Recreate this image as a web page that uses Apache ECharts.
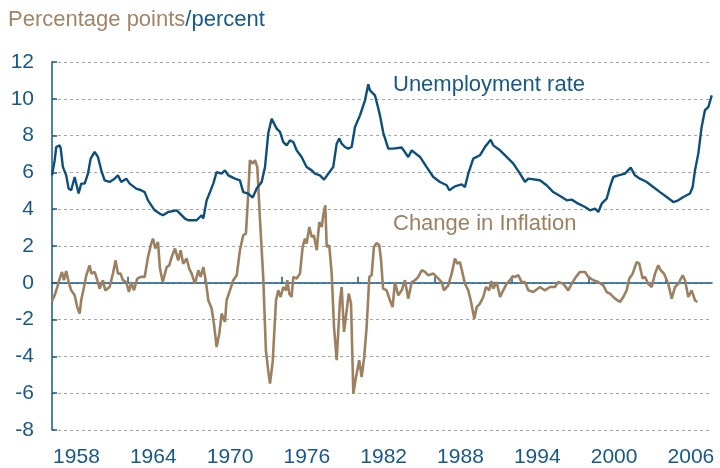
<!DOCTYPE html>
<html>
<head>
<meta charset="utf-8">
<script src="https://cdn.jsdelivr.net/npm/echarts@6/dist/echarts.min.js"></script>
<style>
    html, body { margin: 0; padding: 0; background: #fff; }
    #chart { width: 720px; height: 468px; }
</style>
</head>
<body>
<div id="chart"></div>
<script>
// tick labels along the bottom, and the small ticks on the zero line
var yearLabels = [1958, 1964, 1970, 1976, 1982, 1988, 1994, 2000, 2006];
var zeroTicks = [1962, 1968, 1974, 1980, 1986, 1992, 1998, 2004];

// unemployment rate (percent)
var unempYears = [1956.09, 1956.30, 1956.42, 1956.69, 1956.77, 1956.94, 1957.20, 1957.39, 1957.59, 1957.86,
    1958.17, 1958.37, 1958.64, 1958.90, 1959.11, 1959.42, 1959.68, 1959.94, 1960.20, 1960.59,
    1960.98, 1961.24, 1961.50, 1961.89, 1962.16, 1962.67, 1963.06, 1963.33, 1963.59, 1964.11,
    1964.50, 1964.76, 1964.91, 1965.17, 1965.83, 1966.09, 1966.48, 1966.73, 1967.39, 1967.78,
    1967.91, 1968.17, 1968.43, 1968.69, 1968.95, 1969.34, 1969.60, 1969.86, 1970.38, 1970.77,
    1971.03, 1971.42, 1971.77, 1972.08, 1972.47, 1972.73, 1972.98, 1973.25, 1973.38, 1973.64,
    1973.90, 1974.16, 1974.42, 1974.68, 1974.94, 1975.20, 1975.59, 1975.98, 1976.38, 1976.63,
    1977.02, 1977.34, 1977.67, 1978.06, 1978.33, 1978.53, 1978.72, 1978.98, 1979.23, 1979.50,
    1979.76, 1980.15, 1980.54, 1980.80, 1980.93, 1981.32, 1981.58, 1981.71, 1981.97, 1982.36,
    1982.75, 1983.41, 1983.92, 1984.19, 1984.84, 1985.36, 1985.88, 1986.40, 1986.92, 1987.13,
    1987.57, 1988.09, 1988.35, 1988.61, 1989.00, 1989.52, 1989.91, 1990.36, 1990.56, 1991.09,
    1991.61, 1992.13, 1992.65, 1993.04, 1993.30, 1994.21, 1994.73, 1995.25, 1995.91, 1996.30,
    1996.69, 1997.20, 1997.73, 1998.12, 1998.51, 1998.77, 1999.03, 1999.42, 1999.68, 1999.94,
    2000.33, 2000.85, 2001.30, 2001.63, 2002.02, 2002.55, 2003.06, 2003.59, 2004.11, 2004.63,
    2005.02, 2005.41, 2005.93, 2006.14, 2006.32, 2006.58, 2006.84, 2007.10, 2007.36, 2007.63];
var unempRate = [5.84, 6.66, 7.38, 7.47, 7.30, 6.30, 5.84, 5.12, 5.03, 5.75,
    4.85, 5.39, 5.39, 5.93, 6.75, 7.11, 6.84, 6.11, 5.57, 5.48,
    5.66, 5.84, 5.48, 5.66, 5.39, 5.12, 5.03, 4.93, 4.48, 3.94,
    3.76, 3.67, 3.67, 3.85, 3.94, 3.76, 3.49, 3.40, 3.40, 3.67,
    3.49, 4.48, 4.93, 5.39, 6.02, 5.93, 6.11, 5.84, 5.66, 5.57,
    4.93, 4.85, 4.63, 5.12, 5.48, 6.29, 8.11, 8.92, 9.00, 8.38,
    8.20, 7.65, 7.47, 7.74, 7.65, 7.20, 6.84, 6.29, 6.11, 5.93,
    5.84, 5.61, 5.93, 6.29, 7.56, 7.84, 7.56, 7.38, 7.29, 7.38,
    8.47, 9.10, 9.92, 10.79, 10.46, 10.19, 9.47, 9.10, 8.15, 7.29,
    7.29, 7.35, 6.84, 7.20, 6.84, 6.29, 5.75, 5.48, 5.30, 5.03,
    5.24, 5.35, 5.21, 5.93, 6.75, 6.93, 7.38, 7.78, 7.47, 7.20,
    6.84, 6.48, 5.93, 5.48, 5.66, 5.57, 5.30, 4.93, 4.66, 4.48,
    4.52, 4.30, 4.12, 3.94, 4.03, 3.85, 4.30, 4.57, 5.21, 5.75,
    5.84, 5.93, 6.26, 5.84, 5.66, 5.48, 5.21, 4.93, 4.66, 4.39,
    4.48, 4.66, 4.85, 5.21, 6.11, 7.02, 8.47, 9.38, 9.55, 10.19];

// change in inflation (percentage points)
var inflYears = [1956.09, 1956.30, 1956.50, 1956.69, 1956.87, 1957.02, 1957.20, 1957.39, 1957.59, 1957.86,
    1958.06, 1958.25, 1958.37, 1958.59, 1958.77, 1959.03, 1959.16, 1959.42, 1959.63, 1959.81,
    1960.07, 1960.25, 1960.59, 1960.85, 1961.06, 1961.24, 1961.45, 1961.63, 1961.89, 1962.10,
    1962.28, 1962.49, 1962.75, 1963.02, 1963.33, 1963.59, 1963.84, 1963.98, 1964.16, 1964.37,
    1964.52, 1964.74, 1965.05, 1965.25, 1965.44, 1965.70, 1965.95, 1966.14, 1966.34, 1966.61,
    1966.81, 1967.00, 1967.26, 1967.52, 1967.70, 1967.91, 1968.12, 1968.30, 1968.56, 1968.74,
    1968.95, 1969.16, 1969.34, 1969.60, 1969.73, 1969.99, 1970.25, 1970.52, 1970.77, 1971.03,
    1971.24, 1971.42, 1971.55, 1971.77, 1971.95, 1972.13, 1972.34, 1972.59, 1972.80, 1972.98,
    1973.12, 1973.33, 1973.59, 1973.77, 1973.95, 1974.16, 1974.37, 1974.47, 1974.63, 1974.81,
    1974.94, 1975.20, 1975.46, 1975.67, 1975.85, 1975.98, 1976.19, 1976.38, 1976.55, 1976.77,
    1976.97, 1977.16, 1977.28, 1977.44, 1977.55, 1977.75, 1977.94, 1978.12, 1978.33, 1978.45,
    1978.59, 1978.72, 1978.90, 1979.05, 1979.27, 1979.45, 1979.63, 1979.84, 1980.09, 1980.28,
    1980.48, 1980.67, 1980.88, 1981.06, 1981.24, 1981.45, 1981.66, 1981.80, 1981.95, 1982.23,
    1982.49, 1982.70, 1982.88, 1983.14, 1983.41, 1983.66, 1983.92, 1984.19, 1984.45, 1984.70,
    1984.97, 1985.23, 1985.48, 1985.88, 1986.27, 1986.53, 1986.71, 1987.05, 1987.31, 1987.57,
    1987.75, 1987.96, 1988.17, 1988.35, 1988.61, 1988.80, 1989.08, 1989.27, 1989.52, 1989.78,
    1989.99, 1990.25, 1990.40, 1990.56, 1990.83, 1991.09, 1991.34, 1991.61, 1991.87, 1992.08,
    1992.26, 1992.52, 1992.78, 1993.04, 1993.30, 1993.69, 1994.21, 1994.60, 1994.99, 1995.38,
    1995.64, 1996.03, 1996.42, 1996.69, 1997.02, 1997.34, 1997.73, 1997.98, 1998.38, 1998.77,
    1999.16, 1999.42, 1999.68, 2000.07, 2000.46, 2000.72, 2000.98, 2001.19, 2001.45, 2001.77,
    2001.97, 2002.23, 2002.41, 2002.67, 2002.94, 2003.20, 2003.45, 2003.64, 2003.90, 2004.23,
    2004.50, 2004.76, 2005.02, 2005.36, 2005.54, 2005.80, 2006.06, 2006.32, 2006.50];
var inflChange = [-1.00, -0.68, -0.23, 0.23, 0.59, 0.14, 0.64, 0.04, -0.41, -0.68,
    -1.32, -1.67, -0.95, -0.23, 0.41, 0.95, 0.50, 0.59, 0.14, -0.32,
    0.14, -0.41, -0.23, 0.50, 1.22, 0.50, 0.50, 0.14, 0.04, -0.50,
    0.04, -0.41, 0.23, 0.32, 0.32, 1.40, 2.13, 2.40, 1.86, 2.22,
    0.80, 0.04, 0.86, 0.95, 1.40, 1.86, 1.22, 1.77, 1.04, 1.32,
    0.77, 0.50, -0.05, 0.68, 0.32, 0.86, 0.04, -0.95, -1.40, -2.22,
    -3.49, -2.76, -1.67, -2.13, -0.95, -0.41, 0.14, 0.41, 1.77, 2.58,
    2.67, 4.85, 6.66, 6.48, 6.66, 6.29, 3.40, 0.32, -3.67, -4.76,
    -5.48, -4.30, -0.95, -0.41, -0.77, -0.23, -0.41, 0.14, -0.59, -0.77,
    0.32, 0.23, 0.50, 1.95, 2.40, 2.13, 3.03, 2.49, 2.58, 1.77,
    3.30, 3.03, 3.67, 4.21, 1.95, 2.04, 0.50, -2.40, -4.21, -4.21,
    -0.95, -0.23, -2.67, -1.86, -0.59, -1.13, -6.02, -5.12, -4.21, -5.12,
    -4.03, -2.40, 0.32, 0.41, 1.95, 2.16, 2.04, 1.20, -0.30, -0.41,
    -0.95, -1.32, 0.04, -0.68, -0.41, 0.14, -0.86, 0.04, 0.14, 0.32,
    0.68, 0.59, 0.41, 0.50, 0.23, 0.04, -0.41, -0.14, 0.50, 1.32,
    1.04, 1.13, 0.50, -0.05, -0.41, -0.95, -1.95, -1.32, -1.13, -0.77,
    -0.23, -0.41, 0.10, -0.32, 0.04, -0.77, -0.41, -0.05, 0.14, 0.35,
    0.32, 0.41, 0.04, 0.04, -0.41, -0.50, -0.23, -0.41, -0.23, -0.23,
    0.04, -0.05, -0.41, -0.05, 0.32, 0.59, 0.59, 0.32, 0.14, 0.04,
    -0.14, -0.50, -0.59, -0.86, -1.04, -0.77, -0.41, 0.23, 0.50, 1.13,
    1.04, 0.23, 0.32, -0.05, -0.23, 0.50, 0.95, 0.68, 0.50, -0.05,
    -0.86, -0.23, -0.05, 0.41, 0.14, -0.77, -0.41, -0.95, -1.04];

var blue = '#0c4f7c';
var textBlue = '#17598a';
var brown = '#9c8060';
var fontName = '"Liberation Sans", Arial, sans-serif';

function pairs(xs, ys) {
    var out = [];
    for (var i = 0; i < xs.length; i++) {
        out.push([xs[i], ys[i]]);
    }
    return out;
}

var chart = echarts.init(document.getElementById('chart'));

var option = {
    animation: false,
    backgroundColor: '#fff',
    textStyle: { fontFamily: fontName },
    grid: { left: 52, right: 8, top: 62, bottom: 38, containLabel: false },
    xAxis: [{
        // labels only, at the bottom
        type: 'value',
        min: 1956.09,
        max: 2007.65,
        position: 'bottom',
        axisLine: { show: false, onZero: false },
        axisTick: { show: false },
        splitLine: { show: false },
        axisLabel: {
            customValues: yearLabels,
            formatter: function (v) { return String(Math.round(v)); },
            color: textBlue,
            fontSize: 21,
            margin: 17,
            fontFamily: fontName
        }
    }, {
        // the zero line with its small ticks
        type: 'value',
        min: 1956.09,
        max: 2007.65,
        position: 'bottom',
        axisLine: { show: true, onZero: true, lineStyle: { color: '#15598a', width: 1.6 } },
        axisTick: { show: true, inside: true, length: 6, customValues: zeroTicks, lineStyle: { color: '#15598a', width: 1.5 } },
        axisLabel: { show: false },
        splitLine: { show: false }
    }],
    yAxis: [{
        type: 'value',
        min: -8,
        max: 12,
        interval: 2,
        axisLine: { show: true, lineStyle: { color: '#15598a', width: 1.5 } },
        axisTick: { show: true, inside: true, length: 5, lineStyle: { color: '#15598a', width: 1.5 } },
        axisLabel: { color: textBlue, fontSize: 21, margin: 18, fontFamily: fontName },
        splitLine: { show: true, lineStyle: { color: '#a6a6a6', width: 1, type: [3, 3] } }
    }],
    graphic: [{
        type: 'text',
        left: 8,
        top: 9,
        style: {
            text: '{a|Percentage points}{b|/percent}',
            rich: {
                a: { fill: '#a08567', fontSize: 22, fontFamily: fontName },
                b: { fill: textBlue, fontSize: 22, fontFamily: fontName }
            }
        }
    }, {
        type: 'text',
        x: 393,
        y: 85,
        style: { text: 'Unemployment rate', fill: textBlue, fontSize: 22, fontFamily: fontName, verticalAlign: 'middle' }
    }, {
        type: 'text',
        x: 393,
        y: 224,
        style: { text: 'Change in Inflation', fill: brown, fontSize: 22, fontFamily: fontName, verticalAlign: 'middle' }
    }],
    series: [{
        name: 'Change in Inflation',
        type: 'line',
        xAxisIndex: 0,
        showSymbol: false,
        data: pairs(inflYears, inflChange),
        lineStyle: { color: brown, width: 2.6 },
        z: 3
    }, {
        name: 'Unemployment rate',
        type: 'line',
        xAxisIndex: 0,
        showSymbol: false,
        data: pairs(unempYears, unempRate),
        lineStyle: { color: blue, width: 2.4 },
        z: 4
    }]
};

chart.setOption(option);
</script>
</body>
</html>
